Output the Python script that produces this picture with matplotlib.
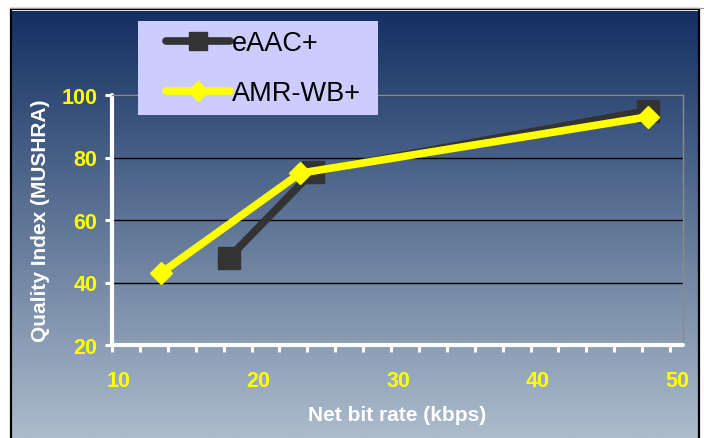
import matplotlib

matplotlib.use('Agg')
import matplotlib.pyplot as plt
import numpy as np
from matplotlib.lines import Line2D
from matplotlib.patches import Rectangle
from matplotlib.ticker import MultipleLocator
from matplotlib.transforms import ScaledTranslation

plt.rcParams['font.family'] = ['Liberation Sans', 'DejaVu Sans']

# listening test results: net bit rate (kbps) vs MUSHRA score
EAAC_RATE = [18.4, 24.4, 48.4]
EAAC_SCORE = [48, 75.5, 95]
AMR_RATE = [13.5, 23.5, 48.4]
AMR_SCORE = [43, 75, 93]
X_TICKS = [10, 20, 30, 40, 50]
Y_TICKS = [20, 40, 60, 80, 100]

COLOR_EAAC = '#333333'
COLOR_AMR = '#FFFF00'
COLOR_TOP = np.array([20, 48, 98]) / 255
COLOR_BOTTOM = np.array([172, 188, 204]) / 255
W, H = 704, 439

fig = plt.figure(figsize=(W / 100, H / 100), dpi=100)
fig.patch.set_facecolor('white')

# slide background: vertical gradient with a dark frame
bg = fig.add_axes([12 / W, 0, 686 / W, 427 / H])
t = np.linspace(0, 1, 256)[:, None]
grad = (1 - t)[..., None] * COLOR_TOP + t[..., None] * COLOR_BOTTOM
bg.imshow(np.repeat(grad, 2, axis=1), aspect='auto', extent=(0, 1, 0, 1),
          interpolation='bilinear')
bg.set_axis_off()
fig.add_artist(Line2D([10 / W, 1], [430 / H, 430 / H], color='#999999', lw=0.8))
fig.add_artist(Rectangle((11 / W, -0.01), 688 / W, 439.5 / H + 0.01 - 10.5 / H,
                         transform=fig.transFigure, fill=False,
                         edgecolor='black', lw=1.6))

ax = fig.add_axes([112 / W, 93 / H, 571 / W, 250 / H])
ax.patch.set_visible(False)
ax.set_xlim(10, 50.93)
ax.set_ylim(20, 100)

ax.plot(EAAC_RATE, EAAC_SCORE, color=COLOR_EAAC, lw=5.5, marker='s', ms=16,
        solid_capstyle='round', solid_joinstyle='round', label='eAAC+', zorder=3)
ax.plot(AMR_RATE, AMR_SCORE, color=COLOR_AMR, lw=5.5, marker='D', ms=11.5,
        solid_capstyle='round', solid_joinstyle='round', label='AMR-WB+', zorder=4)

ax.xaxis.set_major_locator(MultipleLocator(10))
ax.xaxis.set_minor_locator(MultipleLocator(2))
ax.set_xticks(X_TICKS)
ax.set_yticks(Y_TICKS)
ax.tick_params(axis='both', which='both', direction='out', length=5, width=2.2,
               color='white', labelcolor=COLOR_AMR, labelsize=15.5)
ax.tick_params(axis='x', pad=13)
ax.tick_params(axis='y', pad=5.5)
for lab in ax.get_xticklabels() + ax.get_yticklabels():
    lab.set_fontweight('bold')
shift = ScaledTranslation(0.07, 0, fig.dpi_scale_trans)
for lab in ax.get_xticklabels():
    lab.set_transform(lab.get_transform() + shift)

ax.set_axisbelow(True)
ax.yaxis.grid(True, color='black', lw=1)
for side in ('left', 'bottom'):
    ax.spines[side].set_color('white')
    ax.spines[side].set_linewidth(3)
    ax.spines[side].set_capstyle('round')
for side in ('top', 'right'):
    ax.spines[side].set_color('#8a8a8a')
    ax.spines[side].set_linewidth(1)

ax.set_xlabel('Net bit rate (kbps)', color='white', fontsize=15,
              fontweight='bold', labelpad=10)
ax.set_ylabel('Quality Index (MUSHRA)', color='white', fontsize=15,
              fontweight='bold', labelpad=8)

# legend panel
fig.add_artist(Rectangle((138 / W, 1 - 116 / H), 240 / W, 94 / H,
                         transform=fig.transFigure, facecolor='#CCCCFF',
                         edgecolor='none', zorder=5))
leg = fig.legend(loc='upper left', bbox_to_anchor=(166 / W, 1 - 31 / H),
                 frameon=False, fontsize=19.5, borderpad=0, borderaxespad=0,
                 handlelength=2.35, handletextpad=0.1, labelspacing=0.9,
                 markerscale=0.85)
leg.set_zorder(6)

fig.savefig('out.png', dpi=100)
